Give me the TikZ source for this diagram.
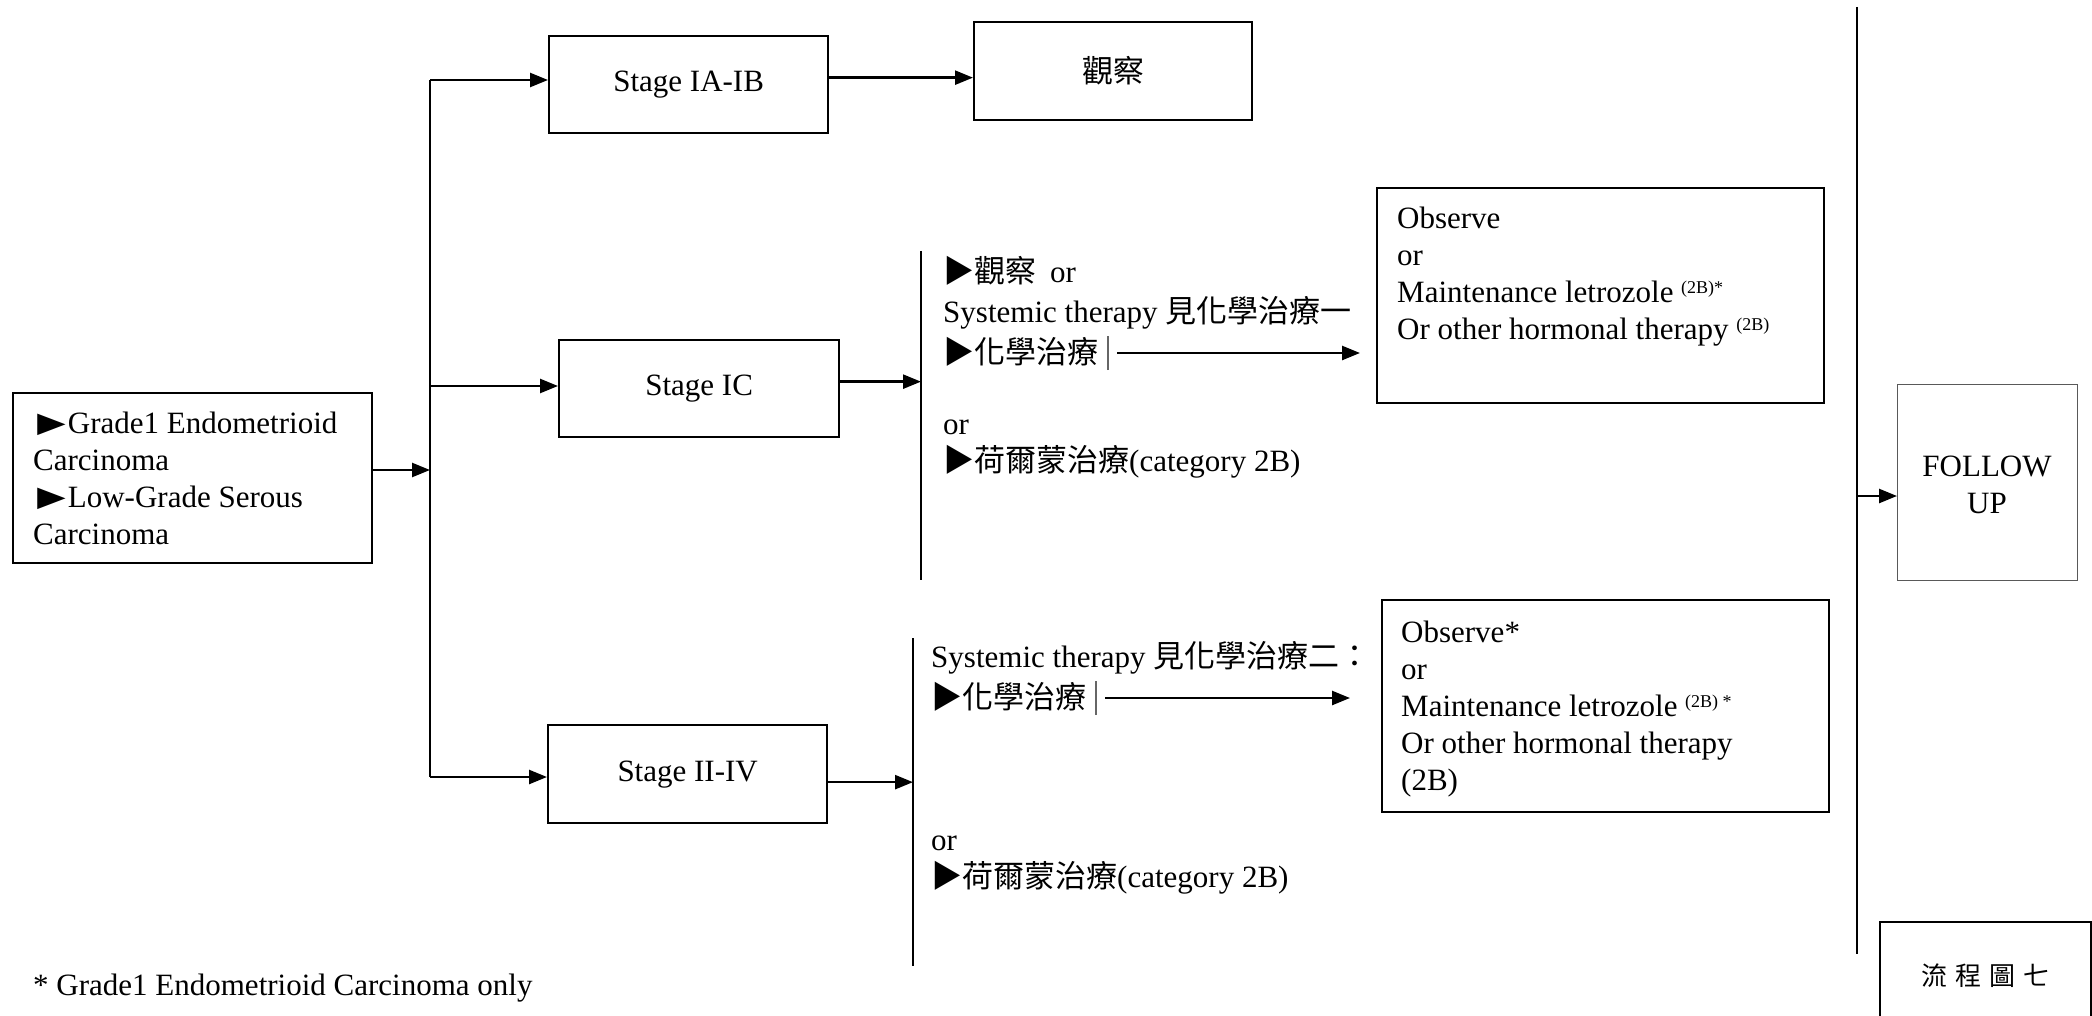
\documentclass[tikz,border=0pt]{standalone}
\usepackage{fontspec}
\usepackage{graphicx}
\setmainfont{Liberation Serif}
\newfontfamily\cjk{Noto Sans CJK TC}
\usetikzlibrary{arrows.meta,calc}
\newcommand\zhs[1]{{\cjk #1}}
\newcommand\ptr{\scalebox{1.12}[0.74]{\cjk ▶}}
\newcommand\cursorbar{\hspace{9pt}{\color{black!60}\rule[-7pt]{1.6pt}{34pt}}}
\newcommand\supr[1]{\raisebox{9pt}{\fontsize{18}{18}\selectfont #1}}

\begin{document}
\begin{tikzpicture}[x=1pt,y=-1pt,
  every node/.style={font=\fontsize{31}{37}\selectfont, inner sep=0pt},
  box/.style={draw, line width=2.3pt, rectangle, anchor=north west},
  thinbox/.style={draw=black!65, line width=1.3pt, rectangle, anchor=north west},
  arr/.style={-{Triangle[length=18pt,width=14pt]}, line width=2.5pt},
  txt/.style={anchor=base west, align=left},
  rule/.style={line width=2.3pt},
  bracket/.style={line width=1.8pt},
]
\useasboundingbox (0,0) rectangle (2092,1016);

% source box (multi-line text nodes are placed by the baseline of their last line)
\node[box, minimum width=359pt, minimum height=170pt] (src) at (12,392) {};
\node[txt] (srctxt) at (33,544) {\ptr Grade1 Endometrioid\\Carcinoma\\\ptr Low-Grade Serous\\Carcinoma};

% stage boxes
\node[box, minimum width=279pt, minimum height=97pt] (ia) at (548,35) {Stage IA-IB};
\node[box, minimum width=278pt, minimum height=98pt] (ob0) at (973,21) {\zhs{觀察}};
\node[box, minimum width=280pt, minimum height=97pt] (ic) at (558,339) {Stage IC};
\node[box, minimum width=279pt, minimum height=98pt] (iv) at (547,724) {Stage II-IV};

% trunk splitting into the three stages
\coordinate (inA) at (430,470);
\coordinate (tTop) at (430,80);
\coordinate (tMid) at (430,386);
\coordinate (tBot) at (430,777);
\draw[arr] (src.east |- inA) -- (inA);
\draw[rule] (tTop) -- (tBot);
\draw[arr] (tTop) -- (tTop -| ia.west);
\draw[arr] (tMid) -- (tMid -| ic.west);
\draw[arr] (tBot) -- (tBot -| iv.west);

\coordinate (a1) at ([yshift=7pt]ia.east);
\draw[arr] (a1) -- (a1 -| ob0.west);

% stage IC options
\coordinate (bIt) at (921,251);
\coordinate (bIb) at (921,580);
\draw[bracket] (bIt) -- (bIb);
\coordinate (a2) at ([yshift=7pt]ic.east);
\draw[arr] (a2) -- (a2 -| bIt);

\node[txt] (t1) at (943,282) {\zhs{▶觀察}\hspace{14pt}or};
\node[txt] (t2) at (943,322) {Systemic therapy \zhs{見化學治療一}};
\node[txt] (t3) at (943,363) {\zhs{▶化學治療}\cursorbar};
\node[txt] (t4) at (943,434) {or};
\node[txt] (t5) at (943,471) {\zhs{▶荷爾蒙治療}(category 2B)};
\coordinate (e1) at (1360,351);
\draw[arr, shorten <=8pt] (t3.east) -- (t3.east -| e1);

\node[box, minimum width=447pt, minimum height=215pt] (obs1) at (1376,187) {};
\node[txt] (obs1txt) at (1397,339) {Observe\\or\\Maintenance letrozole \supr{(2B)*}\\Or other hormonal therapy \supr{(2B)}};

% stage II-IV options
\coordinate (bIIt) at (913,638);
\coordinate (bIIb) at (913,966);
\draw[bracket] (bIIt) -- (bIIb);
\coordinate (a3) at ([yshift=-8pt]iv.east);
\draw[arr] (a3) -- (a3 -| bIIt);

\node[txt] (u1) at (931,667) {Systemic therapy \zhs{見化學治療二：}};
\node[txt] (u2) at (931,708) {\zhs{▶化學治療}\cursorbar};
\node[txt] (u3) at (931,850) {or};
\node[txt] (u4) at (931,887) {\zhs{▶荷爾蒙治療}(category 2B)};
\coordinate (e2) at (1350,696);
\draw[arr, shorten <=8pt] (u2.east) -- (u2.east -| e2);

\node[box, minimum width=447pt, minimum height=212pt] (obs2) at (1381,599) {};
\node[txt] (obs2txt) at (1401,790) {Observe*\\or\\Maintenance letrozole \supr{(2B) *}\\Or other hormonal therapy\\(2B)};

% collecting line and follow up
\coordinate (vT) at (1857,7);
\coordinate (vB) at (1857,954);
\draw[line width=2.6pt] (vT) -- (vB);
\node[thinbox, minimum width=180pt, minimum height=196pt] (fu) at (1897,384) {};
\node[anchor=base, align=center] (futxt) at (1987,513) {FOLLOW\\UP};
\coordinate (a4) at (1857,496);
\draw[arr] (a4) -- (a4 -| fu.west);

% chart label and footnote
\node[box, minimum width=211pt, minimum height=106pt, font=\fontsize{26}{30}\selectfont] (fig7) at (1879,921) {\zhs{流\hspace{8pt}程\hspace{8pt}圖\hspace{8pt}七}};
\node[txt] (note) at (33,995) {* Grade1 Endometrioid Carcinoma only};
\end{tikzpicture}
\end{document}
